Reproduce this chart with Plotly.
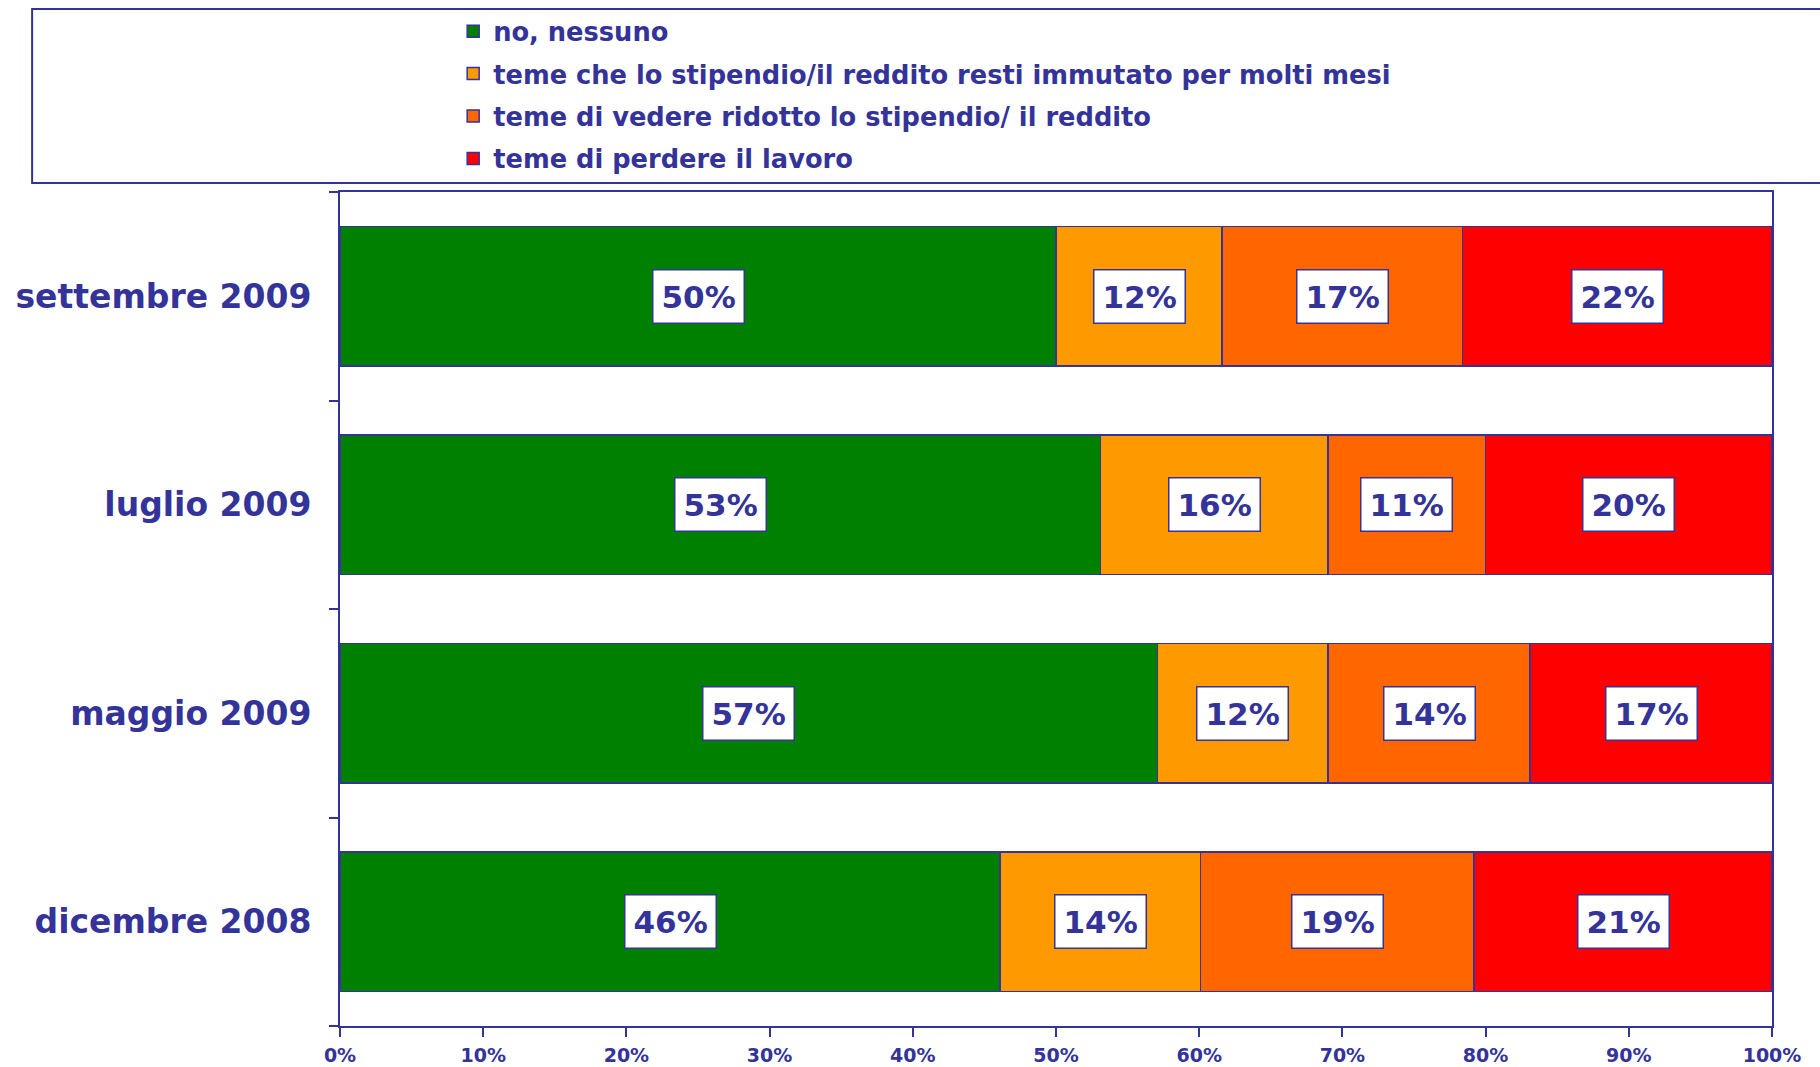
import plotly.graph_objects as go

BLUE = "#333399"
FONT = "DejaVu Sans"

# surveys, bottom to top
periods = ["dicembre 2008", "maggio 2009", "luglio 2009", "settembre 2009"]

series_names = [
    "no, nessuno",
    "teme che lo stipendio/il reddito resti immutato per molti mesi",
    "teme di vedere ridotto lo stipendio/ il reddito",
    "teme di perdere il lavoro",
]
series_colors = ["#008000", "#FF9900", "#FF6600", "#FF0000"]

no_nessuno = [46.1, 57.1, 53.1, 50.0]
immutato = [14.0, 11.9, 15.9, 11.6]
ridotto = [19.1, 14.1, 11.0, 16.8]
perdere = [20.8, 16.9, 20.0, 21.6]

x_ticks = [0, 10, 20, 30, 40, 50, 60, 70, 80, 90, 100]
x_labels = [f"{t}%" for t in x_ticks]

series_values = [no_nessuno, immutato, ridotto, perdere]

fig = go.Figure()
for i, (name, vals, col) in enumerate(zip(series_names, series_values, series_colors)):
    fig.add_trace(go.Bar(
        y=periods, x=vals, name=name, orientation="h",
        marker=dict(color=col, line=dict(color=BLUE, width=1.5)),
        legendgroup=f"g{i}", hoverinfo="skip",
    ))

# boxed value labels in the middle of each segment
base = [0.0] * len(periods)
for vals in series_values:
    for j, v in enumerate(vals):
        fig.add_annotation(
            x=base[j] + v / 2, y=periods[j], text=f"{round(v)}%",
            showarrow=False, bgcolor="white", bordercolor=BLUE,
            borderwidth=1.5, borderpad=8,
            font=dict(family=FONT, size=31, color=BLUE, weight="bold"),
        )
        base[j] += v

# legend frame (runs off the right edge like the original)
fig.add_shape(type="rect", xref="paper", yref="paper",
              x0=-0.215, x1=1.06, y0=1.0108, y1=1.2194,
              line=dict(color=BLUE, width=2), fillcolor="rgba(0,0,0,0)")

fig.update_layout(
    width=1820, height=1067,
    barmode="stack", bargap=0.33,
    paper_bgcolor="white", plot_bgcolor="white",
    margin=dict(l=340, r=48, t=192, b=41, autoexpand=False),
    font=dict(family=FONT, color=BLUE),
    legend=dict(
        xref="container", yref="container", x=0.249, y=0.9925,
        xanchor="left", yanchor="top",
        traceorder="grouped", tracegroupgap=6,
        font=dict(family=FONT, size=25.7, color=BLUE, weight="bold"),
        bgcolor="rgba(0,0,0,0)",
    ),
)
fig.update_xaxes(
    range=[0, 100], tickvals=x_ticks, ticktext=x_labels,
    showgrid=False, zeroline=False,
    showline=True, linecolor=BLUE, linewidth=2, mirror=True,
    ticks="outside", ticklen=9, tickcolor=BLUE, tickwidth=1.5,
    ticklabelstandoff=2,
    tickfont=dict(family=FONT, size=19, color=BLUE, weight="bold"),
)
fig.update_yaxes(
    categoryorder="array", categoryarray=periods,
    showgrid=False, showline=True, linecolor=BLUE, linewidth=2, mirror=True,
    ticks="outside", tickson="boundaries", ticklen=9, tickcolor=BLUE, tickwidth=1.5,
    ticklabelstandoff=20,
    tickfont=dict(family=FONT, size=33, color=BLUE, weight="bold"),
)

# drop the browser's default 8px body margin so the figure fills the window
fig.write_html(
    "out.html",
    config={"displayModeBar": False},
    post_script="document.body.style.margin = '0px';",
)
